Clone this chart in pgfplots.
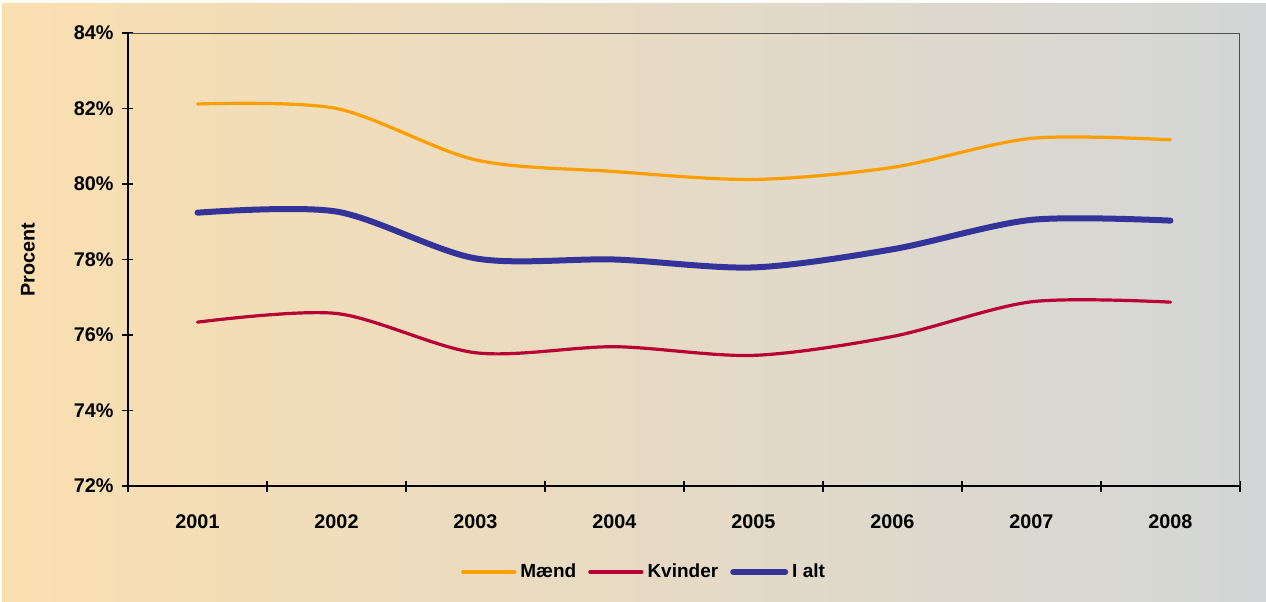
\documentclass[border=0pt]{standalone}
\usepackage{pgfplots}
\pgfplotsset{compat=1.18}
\usepackage{fontspec}
\setmainfont{Liberation Sans}
\definecolor{cMaend}{RGB}{255,158,0}
\definecolor{cKvinder}{RGB}{184,0,52}
\definecolor{cIalt}{RGB}{51,51,153}
\definecolor{bgL}{RGB}{250,223,176}
\definecolor{bgR}{RGB}{211,214,215}
\begin{document}
\begin{tikzpicture}[x=1pt,y=1pt]
\fill[white] (0,0) rectangle (633,300.5);
\shade[left color=bgL,right color=bgR] (1,0) rectangle (633,298.5);
\begin{axis}[
  at={(64pt,57.5pt)}, anchor=south west,
  scale only axis, width=556pt, height=226.5pt,
  xmin=-0.5, xmax=7.5, ymin=72, ymax=84,
  xtick={-0.5,0.5,...,7.5},
  xticklabels={},
  extra x ticks={0,...,7},
  extra x tick labels={2001,2002,2003,2004,2005,2006,2007,2008},
  extra x tick style={tick style={draw=none}},
  ytick={72,74,...,84},
  yticklabels={72\%,74\%,76\%,78\%,80\%,82\%,84\%},
  xtick pos=bottom, ytick pos=left,
  major tick length=5.5pt,
  tick align=center,
  axis line style={black!70, line width=0.5pt},
  tick style={black, line width=0.6pt},
  every tick label/.append style={font=\bfseries\fontsize{9.9}{12}\selectfont},
  xticklabel style={yshift=-8pt},
  yticklabel style={xshift=-1pt},
  ylabel={Procent},
  ylabel style={font=\bfseries\fontsize{9.9}{12}\selectfont, at={(axis description cs:-0.09,0.5)}, anchor=center},
  legend columns=3,
  legend style={at={(0.465,-0.19)}, anchor=center, draw=none, fill=none,
    font=\bfseries\fontsize{9.5}{11}\selectfont,
    /tikz/every even column/.append style={column sep=4pt}},
  legend image code/.code={\draw[#1] (0pt,0pt) -- (26pt,0pt);},
  clip=false,
]
\draw[black, line width=0.8pt] (axis cs:-0.5,84) -- (axis cs:-0.5,72) -- (axis cs:7.5,72);
\addplot[cMaend, line width=1.6pt, smooth, line cap=round] coordinates {
  (0,82.12) (1,82.0) (2,80.64) (3,80.33) (4,80.12) (5,80.44) (6,81.21) (7,81.17)};
\addlegendentry{Mænd}
\addplot[cKvinder, line width=1.6pt, smooth, line cap=round] coordinates {
  (0,76.34) (1,76.57) (2,75.53) (3,75.69) (4,75.46) (5,75.96) (6,76.88) (7,76.87)};
\addlegendentry{Kvinder}
\addplot[cIalt, line width=3pt, smooth, line cap=round] coordinates {
  (0,79.24) (1,79.27) (2,78.03) (3,78.0) (4,77.79) (5,78.27) (6,79.05) (7,79.03)};
\addlegendentry{I alt}
\end{axis}
\end{tikzpicture}
\end{document}
